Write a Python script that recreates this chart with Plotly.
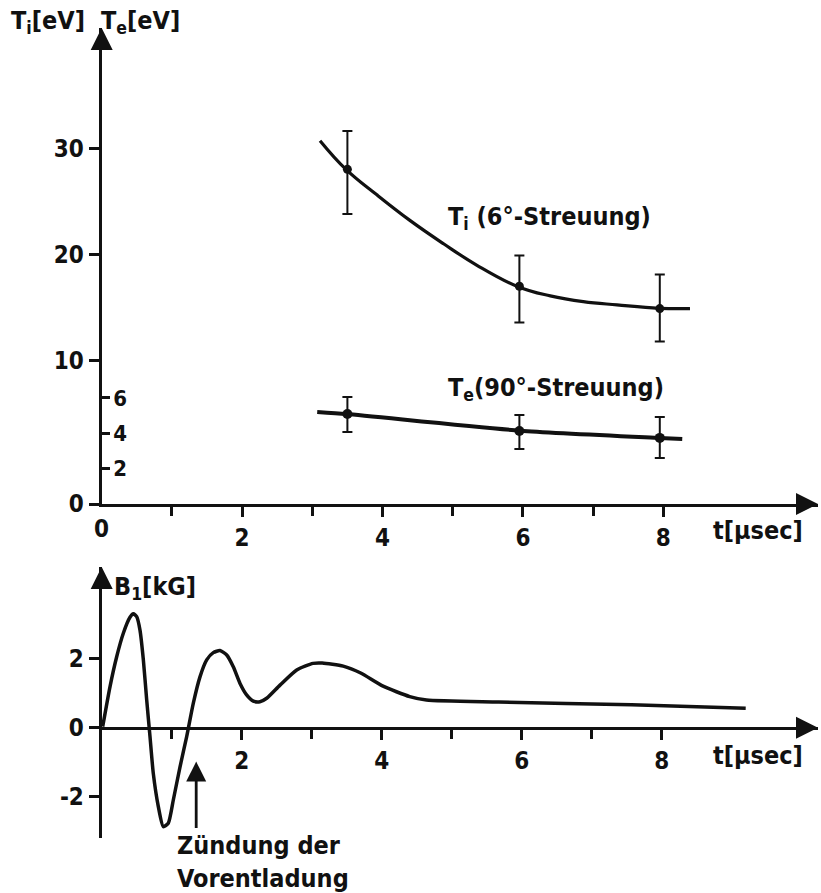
import plotly.graph_objects as go

# ---------------- data ----------------
# upper panel: ion temperature T_i (6 deg scattering), fitted curve
ti_curve_t = [3.11, 3.48, 3.92, 4.39, 4.87, 5.34, 5.93, 6.39, 6.86, 7.34, 7.94, 8.38]
ti_curve = [30.7, 28.0, 25.6, 23.2, 21.0, 19.0, 16.96, 16.1, 15.56, 15.25, 14.93, 14.9]
# measured points with error bars
ti_pts_t = [3.5, 5.95, 7.95]
ti_pts = [28.0, 17.0, 14.9]
ti_err_plus = [3.6, 2.9, 3.2]
ti_err_minus = [4.2, 3.4, 3.1]

# upper panel: electron temperature T_e (90 deg scattering)
te_curve_t = [3.07, 3.49, 5.96, 7.95, 8.27]
te_curve = [5.21, 5.09, 4.15, 3.74, 3.68]
te_pts_t = [3.5, 5.95, 7.95]
te_pts = [5.09, 4.13, 3.74]
te_err_plus = [0.97, 0.91, 1.18]
te_err_minus = [1.02, 1.02, 1.14]

# lower panel: magnetic field B_1 [kG]
b_t = [0.014, 0.119, 0.214, 0.309, 0.404, 0.452, 0.5, 0.547, 0.595, 0.643, 0.69, 0.737,
       0.809, 0.88, 0.951, 1.023, 1.119, 1.214, 1.309, 1.404, 1.5, 1.594, 1.69, 1.786,
       1.88, 1.976, 2.07, 2.166, 2.26, 2.357, 2.547, 2.786, 3.02, 3.15, 3.45, 3.7,
       4.02, 4.4, 4.64, 5.67, 7.57, 9.2]
b_val = [0.03, 1.19, 2.05, 2.73, 3.19, 3.29, 3.21, 2.82, 1.96, 0.8, -0.26, -1.32,
         -2.28, -2.86, -2.76, -2.09, -1.13, -0.26, 0.71, 1.47, 1.96, 2.17, 2.23, 2.1,
         1.76, 1.28, 0.95, 0.77, 0.75, 0.85, 1.23, 1.67, 1.86, 1.87, 1.78, 1.58,
         1.2, 0.9, 0.8, 0.74, 0.66, 0.56]

# ignition of the pre-discharge (arrow tip and tail)
ignition_t = 1.35
ignition_tip_b = -0.98
ignition_tail_b = -2.9

# ticks
x_major_top = [0, 2, 4, 6, 8]
x_major_bottom = [2, 4, 6, 8]
x_minor = [1, 3, 5, 7]
ti_ticks = [10, 20, 30]
te_ticks = [2, 4, 6]
b_ticks = [-2, 0, 2]
b_tick_labels = ["-2", "0", "2"]

# ---------------- layout geometry ----------------
W, H = 821, 893
FONT = "DejaVu Sans Condensed, Liberation Sans Narrow, sans-serif"


def fx(p):
    return p / W


def fy(p):
    return 1 - p / H


X0 = 101.7
XEND = 818
XPU_TOP = 70.2
XPU_BOT = 70.0
top_xrange = [0, (XEND - X0) / XPU_TOP]
bot_xrange = [0, (XEND - X0) / XPU_BOT]

TOP_Y0, TOP_Y1 = 504, 28
TE_PPU = 17.67
te_range = [0, (TOP_Y0 - TOP_Y1) / TE_PPU]
TI_PPU, TI10_PX = 10.63, 360.7
ti_range = [10 - (TOP_Y0 - TI10_PX) / TI_PPU, 10 + (TI10_PX - TOP_Y1) / TI_PPU]

BOT_Y0, BOT_Y1 = 838, 567
B0_PX, B_PPU = 727.7, 34.6
b_range = [-(BOT_Y0 - B0_PX) / B_PPU, (B0_PX - BOT_Y1) / B_PPU]

BLACK = "#111111"
tickfont = dict(family=FONT, size=24, color=BLACK, weight="bold")

fig = go.Figure()

fig.add_trace(go.Scatter(x=ti_curve_t, y=ti_curve, mode="lines",
                         line=dict(color=BLACK, width=3.2, shape="spline", smoothing=1.2),
                         xaxis="x", yaxis="y", hoverinfo="skip"))
fig.add_trace(go.Scatter(x=ti_pts_t, y=ti_pts, mode="markers",
                         marker=dict(color=BLACK, size=9),
                         error_y=dict(type="data", symmetric=False, array=ti_err_plus,
                                      arrayminus=ti_err_minus, color=BLACK, thickness=2, width=5),
                         xaxis="x", yaxis="y"))
fig.add_trace(go.Scatter(x=te_curve_t, y=te_curve, mode="lines",
                         line=dict(color=BLACK, width=4, shape="spline", smoothing=0.6),
                         xaxis="x", yaxis="y2", hoverinfo="skip"))
fig.add_trace(go.Scatter(x=te_pts_t, y=te_pts, mode="markers",
                         marker=dict(color=BLACK, size=10),
                         error_y=dict(type="data", symmetric=False, array=te_err_plus,
                                      arrayminus=te_err_minus, color=BLACK, thickness=2, width=5),
                         xaxis="x", yaxis="y2"))
fig.add_trace(go.Scatter(x=b_t, y=b_val, mode="lines",
                         line=dict(color=BLACK, width=3.5, shape="spline", smoothing=0.6),
                         xaxis="x2", yaxis="y3", hoverinfo="skip"))

# arrow heads at the axis ends (narrow filled triangles, tip at the given point)
HEAD = dict(color=BLACK, size=22, line=dict(width=0))
fig.add_trace(go.Scatter(x=[0], y=[te_range[1]], mode="markers", cliponaxis=False,
                         marker=dict(symbol="arrow-up", **HEAD), xaxis="x", yaxis="y2", hoverinfo="skip"))
fig.add_trace(go.Scatter(x=[top_xrange[1]], y=[0], mode="markers", cliponaxis=False,
                         marker=dict(symbol="arrow-right", **HEAD), xaxis="x", yaxis="y2", hoverinfo="skip"))
fig.add_trace(go.Scatter(x=[0], y=[b_range[1]], mode="markers", cliponaxis=False,
                         marker=dict(symbol="arrow-up", **HEAD), xaxis="x2", yaxis="y3", hoverinfo="skip"))
fig.add_trace(go.Scatter(x=[bot_xrange[1]], y=[0], mode="markers", cliponaxis=False,
                         marker=dict(symbol="arrow-right", **HEAD), xaxis="x2", yaxis="y3", hoverinfo="skip"))
# ignition arrow
fig.add_trace(go.Scatter(x=[ignition_t, ignition_t], y=[ignition_tail_b, ignition_tip_b - 0.3],
                         mode="lines", line=dict(color=BLACK, width=2.8), cliponaxis=False,
                         xaxis="x2", yaxis="y3", hoverinfo="skip"))
fig.add_trace(go.Scatter(x=[ignition_t], y=[ignition_tip_b], mode="markers", cliponaxis=False,
                         marker=dict(symbol="arrow-up", color=BLACK, size=20, line=dict(width=0)),
                         xaxis="x2", yaxis="y3", hoverinfo="skip"))

axis_common = dict(showgrid=False, zeroline=False, showline=True, linecolor=BLACK, linewidth=3,
                   ticks="outside", ticklen=10, tickwidth=2.5, tickcolor=BLACK, tickfont=tickfont,
                   automargin=False)
minor_x = dict(tickmode="array", tickvals=x_minor, ticks="outside", ticklen=9, tickwidth=2.5,
               tickcolor=BLACK, showgrid=False)

fig.update_layout(
    width=W, height=H, autosize=False, margin=dict(l=0, r=0, t=0, b=0, pad=0),
    paper_bgcolor="white", plot_bgcolor="rgba(0,0,0,0)", showlegend=False,
    xaxis=dict(domain=[fx(X0), fx(XEND)], range=top_xrange, anchor="y",
               tickmode="array", tickvals=x_major_top, ticktext=[str(v) for v in x_major_top],
               minor=minor_x, **axis_common),
    yaxis=dict(domain=[fy(TOP_Y0), fy(TOP_Y1)], range=ti_range, anchor="x",
               tickmode="array", tickvals=[ti_range[0]] + ti_ticks,
               ticktext=["0"] + [str(v) for v in ti_ticks], **axis_common),
    yaxis2=dict(domain=[fy(TOP_Y0), fy(TOP_Y1)], range=te_range, anchor="x", overlaying="y",
                side="left", showgrid=False, zeroline=False, showline=False, automargin=False,
                ticks="inside", ticklen=8, tickwidth=2.5, tickcolor=BLACK,
                ticklabelposition="inside", ticklabelstandoff=5,
                tickfont=dict(family=FONT, size=22, color=BLACK, weight="bold"),
                tickmode="array", tickvals=te_ticks, ticktext=[str(v) for v in te_ticks]),
    xaxis2=dict(domain=[fx(X0), fx(XEND)], range=bot_xrange, anchor="free", position=fy(B0_PX),
                tickmode="array", tickvals=x_major_bottom, ticktext=[str(v) for v in x_major_bottom],
                minor=minor_x, **axis_common),
    yaxis3=dict(domain=[fy(BOT_Y0), fy(BOT_Y1)], range=b_range, anchor="x2",
                tickmode="array", tickvals=b_ticks, ticktext=b_tick_labels, **axis_common),
)

annotations = [
    # x tick label "0" of the upper panel (plotly hides it next to the inside T_e labels)
    dict(text="0", x=0, y=fy(529), xref="x", yref="paper", xanchor="center", yanchor="middle",
         showarrow=False, font=tickfont),
]

label_font = dict(family=FONT, size=25, color=BLACK, weight="bold")
texts = [
    ("T<sub>i</sub>[eV]", fx(9), fy(22)),
    ("T<sub>e</sub>[eV]", fx(99), fy(22)),
    ("B<sub>1</sub>[kG]", fx(112), fy(588)),
    ("t[μsec]", fx(711), fy(530)),
    ("t[μsec]", fx(711), fy(755)),
    ("Zündung der<br>Vorentladung", fx(175), fy(862)),
]
for txt, x, y in texts:
    annotations.append(dict(text=txt, x=x, y=y, xref="paper", yref="paper", xanchor="left",
                            yanchor="middle", showarrow=False, align="left", font=label_font))

annotations.append(dict(text="T<sub>i</sub> (6°-Streuung)", x=4.90, y=23.4, xref="x", yref="y",
                        xanchor="left", yanchor="middle", showarrow=False, font=label_font))
annotations.append(dict(text="T<sub>e</sub>(90°-Streuung)", x=4.90, y=6.5, xref="x", yref="y2",
                        xanchor="left", yanchor="middle", showarrow=False, font=label_font))

fig.update_layout(annotations=annotations)

fig.write_html("out.html", config={"responsive": False, "displayModeBar": False},
               post_script="document.body.style.margin='0';document.body.style.overflow='hidden';")
